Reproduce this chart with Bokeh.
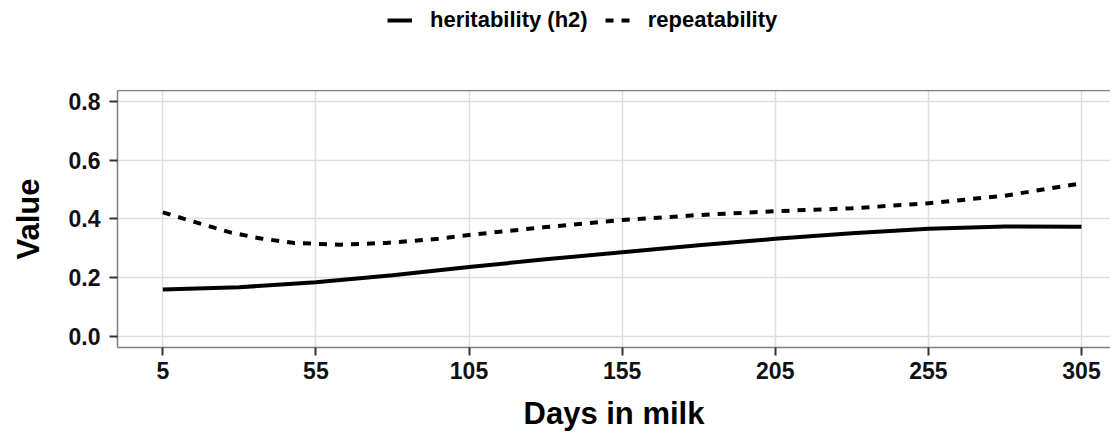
from bokeh.plotting import figure
from bokeh.layouts import column
from bokeh.models import Range1d, FixedTicker, LinearAxis, Legend, LegendItem
from bokeh.embed import file_html
from bokeh.resources import INLINE

# Data
h2_days = [5, 30, 55, 80, 105, 130, 155, 180, 205, 230, 255, 280, 305]
h2_values = [0.159, 0.167, 0.184, 0.208, 0.236, 0.262, 0.286, 0.310, 0.332, 0.351, 0.366, 0.374, 0.373]

rep_days = [5, 12, 27, 37, 48, 55, 63, 78, 95, 105, 130, 155, 180, 205, 230, 255, 280, 305]
rep_values = [0.422, 0.400, 0.354, 0.333, 0.318, 0.315, 0.312, 0.318, 0.332, 0.345, 0.372,
              0.396, 0.413, 0.426, 0.436, 0.453, 0.479, 0.521]

x_ticks = [5, 55, 105, 155, 205, 255, 305]
y_ticks = [0.0, 0.2, 0.4, 0.6, 0.8]
y_tick_labels = {0.0: "0.0", 0.2: "0.2", 0.4: "0.4", 0.6: "0.6", 0.8: "0.8"}

series_labels = ["heritability (h2)", "repeatability"]

FONT = "Liberation Sans"
LINE_W = 4
DASH = "8 8"

# ---- legend strip (top); its ranges keep the proxy series out of view ----
leg = figure(width=1110, height=90, output_backend="svg", toolbar_location=None,
             x_range=Range1d(1000, 1001), y_range=Range1d(1000, 1001),
             x_axis_location=None, y_axis_location=None,
             min_border_left=117, min_border_right=0, min_border_top=0, min_border_bottom=0)
leg.outline_line_color = None
leg.grid.visible = False
leg.background_fill_color = "white"
leg.border_fill_color = "white"
lr1 = leg.line(h2_days, h2_values, line_color="black", line_width=LINE_W)
lr2 = leg.line(rep_days, rep_values, line_color="black", line_width=LINE_W, line_dash=DASH)

legend = Legend(items=[LegendItem(label=series_labels[0], renderers=[lr1]),
                       LegendItem(label=series_labels[1], renderers=[lr2])],
                orientation="horizontal", location=(270, 57))
legend.label_text_font = FONT
legend.label_text_font_style = "bold"
legend.label_text_font_size = "22px"
legend.label_text_color = "black"
legend.glyph_width = 25
legend.glyph_height = 26
legend.label_height = 26
legend.label_standoff = 18
legend.spacing = 17
legend.padding = 0
legend.margin = 0
legend.border_line_color = None
legend.background_fill_alpha = 0
leg.add_layout(legend, "center")

# ---- main chart ----
p = figure(width=1110, height=345, output_backend="svg", toolbar_location=None,
           x_range=Range1d(-9.79, 314.47), y_range=Range1d(-0.0385, 0.8375),
           min_border_left=117, min_border_right=0, min_border_top=0, min_border_bottom=88)
p.outline_line_color = None
p.background_fill_color = "white"
p.border_fill_color = "white"

r1 = p.line(h2_days, h2_values, line_color="black", line_width=LINE_W)
r2 = p.line(rep_days, rep_values, line_color="black", line_width=LINE_W, line_dash=DASH)

for ax in (p.xaxis[0], p.yaxis[0]):
    ax.axis_line_color = "#7f7f7f"
    ax.axis_line_width = 1.5
    ax.major_tick_line_color = "#333333"
    ax.major_tick_line_width = 2
    ax.major_tick_out = 8
    ax.major_tick_in = 0
    ax.minor_tick_out = 0
    ax.minor_tick_in = 0
    ax.major_label_text_font = FONT
    ax.major_label_text_font_style = "bold"
    ax.major_label_text_font_size = "23px"
    ax.major_label_text_color = "#111111"
    ax.axis_label_text_font = FONT
    ax.axis_label_text_font_style = "bold"
    ax.axis_label_text_font_size = "31px"
    ax.axis_label_text_color = "black"

p.xaxis.ticker = FixedTicker(ticks=x_ticks)
p.yaxis.ticker = FixedTicker(ticks=y_ticks)
p.yaxis.major_label_overrides = y_tick_labels
p.xaxis.axis_label = "Days in milk"
p.yaxis.axis_label = "Value"
p.xaxis.major_label_standoff = 6
p.yaxis.major_label_standoff = 9
p.xaxis.axis_label_standoff = 14
p.yaxis.axis_label_standoff = 20

# top border line of the panel
top_axis = LinearAxis(ticker=FixedTicker(ticks=[]), axis_line_color="#7f7f7f", axis_line_width=1.5,
                      major_tick_out=0, major_tick_in=0, minor_tick_out=0, minor_tick_in=0,
                      major_label_standoff=0, axis_label_standoff=0,
                      major_label_text_font_size="0px")
p.add_layout(top_axis, "above")

p.xgrid.ticker = FixedTicker(ticks=x_ticks)
p.ygrid.ticker = FixedTicker(ticks=y_ticks)
p.grid.grid_line_color = "#dedede"
p.grid.grid_line_width = 1.5

layout = column(leg, p, spacing=0)
open("out.html", "w").write(file_html(layout, INLINE))
